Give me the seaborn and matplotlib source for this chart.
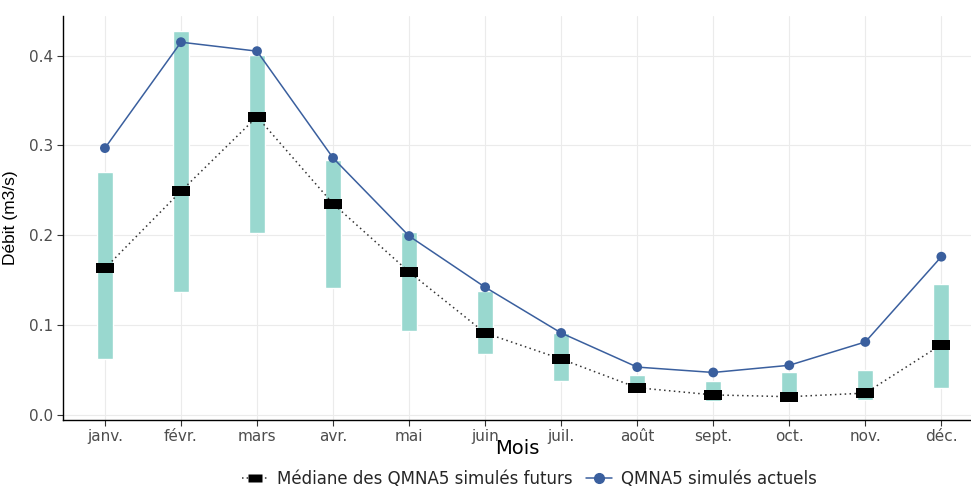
import matplotlib
matplotlib.use("Agg")
import matplotlib.pyplot as plt
import seaborn as sns
import pandas as pd
from matplotlib.lines import Line2D

months = ["janv.", "févr.", "mars", "avr.", "mai", "juin", "juil.", "août", "sept.", "oct.", "nov.", "déc."]
actuels = [0.297, 0.415, 0.405, 0.286, 0.199, 0.142, 0.091, 0.053, 0.047, 0.055, 0.081, 0.176]
mediane = [0.163, 0.249, 0.332, 0.235, 0.159, 0.091, 0.062, 0.030, 0.022, 0.020, 0.024, 0.078]
futur_min = [0.062, 0.137, 0.202, 0.141, 0.093, 0.068, 0.038, 0.025, 0.015, 0.014, 0.016, 0.030]
futur_max = [0.270, 0.427, 0.401, 0.284, 0.204, 0.138, 0.091, 0.044, 0.038, 0.048, 0.050, 0.146]

df = pd.DataFrame({"Mois": months, "actuels": actuels, "mediane": mediane,
                   "min": futur_min, "max": futur_max})
df["x"] = range(len(months))

sns.set_theme(style="white")
plt.rcParams["font.family"] = ["DejaVu Sans"]

fig = plt.figure(figsize=(9.71, 4.88), dpi=100)
ax = fig.add_axes([0.065, 0.14, 0.935, 0.828])

teal = "#99D8CF"
blue = "#3A5F9E"
rect = [(-1, -0.55), (1, -0.55), (1, 0.55), (-1, 0.55), (-1, -0.55)]

ax.bar(df["x"], df["max"] - df["min"], bottom=df["min"], width=0.21, color=teal, zorder=2)
sns.lineplot(data=df, x="x", y="mediane", ax=ax, color="#333333", linestyle=(0, (1, 2.2)),
             linewidth=1.1, zorder=3, legend=False)
sns.lineplot(data=df, x="x", y="actuels", ax=ax, color=blue, linewidth=1.1, zorder=4, legend=False)
sns.scatterplot(data=df, x="x", y="actuels", ax=ax, color=blue, s=50, edgecolor="none",
                zorder=5, legend=False)
sns.scatterplot(data=df, x="x", y="mediane", ax=ax, color="black", marker=rect, s=170,
                edgecolor="none", zorder=6, legend=False)

ax.set_xlim(-0.55, 11.39)
ax.set_ylim(-0.0056, 0.4446)
ax.set_xticks(df["x"])
ax.set_xticklabels(months)
ax.set_yticks([0.0, 0.1, 0.2, 0.3, 0.4])
ax.set_yticklabels(["0.0", "0.1", "0.2", "0.3", "0.4"])
ax.grid(True, color="#EBEBEB", linewidth=0.8, zorder=0)
ax.set_axisbelow(True)
for s in ["top", "right"]:
    ax.spines[s].set_visible(False)
for s in ["left", "bottom"]:
    ax.spines[s].set_color("black")
    ax.spines[s].set_linewidth(1.0)
ax.tick_params(axis="both", which="both", length=4, width=0.8, color="#333333",
               labelcolor="#4D4D4D", labelsize=11, bottom=True, left=True, pad=3)
ax.set_xlabel("Mois", fontsize=14, color="black")
ax.xaxis.set_label_coords(0.5, -0.048)
ax.set_ylabel("Débit (m3/s)", fontsize=12.5, color="black",
              family=["Liberation Sans Narrow", "Liberation Sans"], labelpad=8)

handles = [
    Line2D([0], [0], color="#333333", linestyle=(0, (1, 2)), linewidth=1.1, marker=rect,
           markersize=10, markerfacecolor="black", markeredgecolor="none"),
    Line2D([0], [0], color=blue, linewidth=1.1, marker="o", markersize=7,
           markerfacecolor=blue, markeredgecolor=blue),
]
fig.legend(handles, ["Médiane des QMNA5 simulés futurs", "QMNA5 simulés actuels"],
           loc="center", bbox_to_anchor=(0.545, 0.019), ncol=2, frameon=False,
           fontsize=12, handlelength=1.6, columnspacing=0.8, handletextpad=0.5,
           borderpad=0.2)

fig.savefig("out.png", dpi=100)
